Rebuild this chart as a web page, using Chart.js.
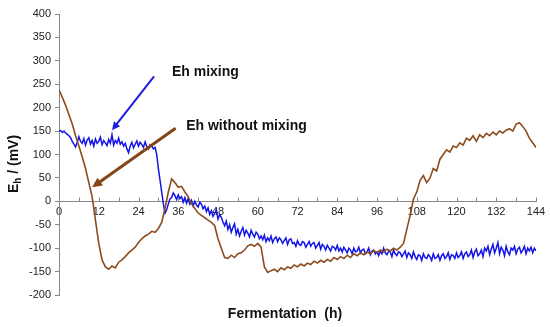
<!DOCTYPE html>
<html lang="en">
<head>
    <meta charset="UTF-8">
    <title>Eh during fermentation</title>
    <script src="https://cdn.jsdelivr.net/npm/chart.js"></script>
    <style>
        body {
            margin: 0;
            background: #fff;
        }
        #wrap {
            width: 550px;
            height: 327px;
        }
    </style>
</head>
<body>
    <div id="wrap"><canvas id="myChart" width="550" height="327"></canvas></div>

    <script>
        // Tiempo de fermentación (h): lecturas cada hora y cada media hora
        var hours = [];
        for (var h = 0; h <= 144; h++) hours.push(h);
        var halfHours = [];
        for (var k = 0; k <= 288; k++) halfHours.push(k / 2);

        // Eh con agitación (mV), cada media hora
        var ehMixing = [
            150, 151, 147, 150, 146, 143, 140, 136, 128, 122,
            116, 126, 138, 128, 124, 134, 120, 131, 136, 122,
            130, 118, 133, 124, 128, 137, 121, 130, 125, 119,
            132, 124, 142, 120, 130, 124, 135, 122, 127, 118,
            124, 112, 104, 118, 126, 114, 122, 129, 118, 126,
            121, 115, 127, 117, 112, 121, 118, 112, 115, 100,
            70, 45, 20, -5, -25, -18, -6, 5, 8, 18,
            12, 4, 14, 6, 10, -2, 8, -4, 6, -6,
            2, -10, 0, -8, -12, -2, -6, -16, -10, -22,
            -14, -28, -20, -32, -26, -18, -38, -28, -34, -44,
            -52, -42, -60, -50, -66, -56, -48, -70, -60, -74,
            -64, -56, -72, -62, -68, -76, -62, -70, -76, -66,
            -70, -80, -74, -82, -72, -86, -78, -84, -74, -88,
            -80, -76, -86, -78, -82, -90, -84, -78, -92, -82,
            -80, -90, -88, -96, -84, -92, -94, -86, -88, -98,
            -92, -86, -96, -90, -88, -100, -94, -88, -102, -92,
            -96, -104, -94, -100, -106, -96, -98, -104, -94, -106,
            -100, -108, -98, -104, -110, -100, -104, -112, -100, -108,
            -106, -98, -110, -104, -102, -112, -108, -100, -114, -106,
            -104, -112, -108, -116, -106, -112, -100, -110, -114, -106,
            -108, -118, -104, -112, -116, -108, -110, -118, -112, -106,
            -120, -110, -114, -122, -108, -118, -124, -114, -116, -126,
            -112, -120, -122, -114, -118, -126, -112, -122, -120, -114,
            -126, -116, -112, -122, -118, -110, -124, -114, -116, -122,
            -110, -120, -116, -108, -122, -112, -108, -118, -114, -104,
            -120, -108, -102, -116, -112, -104, -118, -100, -106, -96,
            -114, -102, -92, -110, -100, -88, -112, -98, -104, -116,
            -96, -108, -114, -100, -104, -96, -112, -102, -98, -110,
            -104, -96, -112, -100, -106, -98, -110, -100, -106
        ];

        // Eh sin agitación (mV), cada hora
        var ehNoMixing = [
            238, 222, 205, 185, 165, 140, 118, 95, 70, 40,
            10, -40, -90, -125, -140, -145, -138, -142, -130, -125,
            -118, -110, -104, -98, -88, -80, -74, -70, -64, -66,
            -58, -45, -15, 20, 48, 40, 30, 32, 20, 10,
            -5, -15, -25, -30, -35, -40, -45, -52, -80, -100,
            -120, -122, -115, -120, -112, -110, -104, -95, -92, -96,
            -90, -98, -140, -152, -148, -145, -150, -142, -146, -140,
            -143, -136, -140, -134, -138, -132, -135, -128, -132, -126,
            -130, -124, -128, -120, -124, -118, -122, -115, -120, -112,
            -116, -110, -114, -108, -112, -105, -110, -104, -108, -102,
            -106, -100, -104, -98, -90, -60, -30, 5, 20, 45,
            55, 40, 50, 70, 65, 90, 100, 110, 105, 118,
            115, 125, 120, 135, 130, 140, 128, 142, 136, 145,
            140, 148, 142, 150, 146, 152, 155, 150, 165, 168,
            160, 150, 135, 125, 115
        ];

        // Marcas de los ejes
        var xTickStep = 6;
        var xLabelStep = 12;
        var yTickStep = 50;

        var blue = 'rgb(20, 20, 230)';
        var brown = 'rgb(140, 75, 30)';

        function toPoints(times, values) {
            return times.map(function (t, i) { return { x: t, y: values[i] }; });
        }

        // Flecha con punta
        function drawArrow(ctx, x1, y1, x2, y2, color, width, head) {
            var ang = Math.atan2(y2 - y1, x2 - x1);
            ctx.save();
            ctx.strokeStyle = color;
            ctx.fillStyle = color;
            ctx.lineWidth = width;
            ctx.beginPath();
            ctx.moveTo(x1, y1);
            ctx.lineTo(x2 - Math.cos(ang) * head * 0.8, y2 - Math.sin(ang) * head * 0.8);
            ctx.stroke();
            ctx.beginPath();
            ctx.moveTo(x2, y2);
            ctx.lineTo(x2 - head * Math.cos(ang - 0.45), y2 - head * Math.sin(ang - 0.45));
            ctx.lineTo(x2 - head * Math.cos(ang + 0.45), y2 - head * Math.sin(ang + 0.45));
            ctx.closePath();
            ctx.fill();
            ctx.restore();
        }

        // Marcas del eje X hacia arriba, textos, flechas y títulos
        var annotations = {
            id: 'annotations',
            beforeDatasetsDraw: function (chart) {
                var ctx = chart.ctx;
                var xs = chart.scales.x, ys = chart.scales.y;
                var y0 = Math.round(ys.getPixelForValue(0)) + 0.5;
                ctx.save();
                ctx.strokeStyle = '#888';
                ctx.lineWidth = 1;
                ctx.beginPath();
                xs.ticks.forEach(function (t) {
                    var px = Math.round(xs.getPixelForValue(t.value)) + 0.5;
                    ctx.moveTo(px, y0);
                    ctx.lineTo(px, y0 - 4);
                });
                ctx.stroke();
                ctx.restore();
            },
            afterDatasetsDraw: function (chart) {
                var ctx = chart.ctx;
                var xs = chart.scales.x, ys = chart.scales.y;

                drawArrow(ctx, xs.getPixelForValue(28.7), ys.getPixelForValue(267),
                    xs.getPixelForValue(16), ys.getPixelForValue(152), 'rgb(30, 30, 220)', 2, 9);
                drawArrow(ctx, xs.getPixelForValue(35.2), ys.getPixelForValue(156),
                    xs.getPixelForValue(10), ys.getPixelForValue(30), 'rgb(130, 70, 25)', 3, 11);

                ctx.save();
                ctx.fillStyle = '#111';
                ctx.font = 'bold 14px "Liberation Sans", Arial, sans-serif';
                ctx.textBaseline = 'middle';
                ctx.textAlign = 'left';
                ctx.fillText('Eh mixing', xs.getPixelForValue(34.1), ys.getPixelForValue(276));
                ctx.fillText('Eh without mixing', xs.getPixelForValue(38.4), ys.getPixelForValue(160));

                // Título eje X
                ctx.textAlign = 'center';
                ctx.fillText('Fermentation  (h)', 285, 314);

                // Título eje Y con subíndice
                ctx.translate(14, 164);
                ctx.rotate(-Math.PI / 2);
                var p1 = 'E', p2 = 'h', p3 = ' / (mV)';
                ctx.font = 'bold 14px "Liberation Sans", Arial, sans-serif';
                var w1 = ctx.measureText(p1).width, w3 = ctx.measureText(p3).width;
                ctx.font = 'bold 10px "Liberation Sans", Arial, sans-serif';
                var w2 = ctx.measureText(p2).width;
                var x0 = -(w1 + w2 + w3) / 2;
                ctx.textAlign = 'left';
                ctx.font = 'bold 14px "Liberation Sans", Arial, sans-serif';
                ctx.fillText(p1, x0, 0);
                ctx.font = 'bold 10px "Liberation Sans", Arial, sans-serif';
                ctx.fillText(p2, x0 + w1, 4);
                ctx.font = 'bold 14px "Liberation Sans", Arial, sans-serif';
                ctx.fillText(p3, x0 + w1 + w2, 0);
                ctx.restore();
            }
        };

        var ctx = document.getElementById('myChart').getContext('2d');
        var chart = new Chart(ctx, {
            type: 'line',
            data: {
                datasets: [{
                    label: 'Eh without mixing',
                    data: toPoints(hours, ehNoMixing),
                    borderColor: brown,
                    borderWidth: 1.6,
                    pointRadius: 0,
                    tension: 0,
                    fill: false
                }, {
                    label: 'Eh mixing',
                    data: toPoints(halfHours, ehMixing),
                    borderColor: blue,
                    borderWidth: 1.5,
                    pointRadius: 0,
                    tension: 0,
                    fill: false
                }]
            },
            options: {
                responsive: false,
                animation: false,
                layout: { padding: { left: 0, right: 14, top: 14, bottom: 32 } },
                plugins: {
                    legend: { display: false },
                    tooltip: { enabled: false }
                },
                scales: {
                    x: {
                        type: 'linear',
                        position: { y: 0 },
                        min: 0,
                        max: 144,
                        ticks: {
                            stepSize: xTickStep,
                            autoSkip: false,
                            maxRotation: 0,
                            padding: 4,
                            color: '#222',
                            font: { family: '"Liberation Sans", Arial, sans-serif', size: 11 },
                            callback: function (v) { return v % xLabelStep === 0 ? v : ''; }
                        },
                        grid: {
                            drawOnChartArea: false,
                            drawTicks: false,
                            color: '#888'
                        },
                        border: { color: '#888', width: 1 }
                    },
                    y: {
                        min: -200,
                        max: 400,
                        afterFit: function (scale) { scale.width = 59; },
                        ticks: {
                            stepSize: yTickStep,
                            padding: 4,
                            color: '#222',
                            font: { family: '"Liberation Sans", Arial, sans-serif', size: 11 }
                        },
                        grid: {
                            drawOnChartArea: false,
                            drawTicks: true,
                            tickLength: 4,
                            color: '#888'
                        },
                        border: { color: '#888', width: 1 }
                    }
                }
            },
            plugins: [annotations]
        });
    </script>
</body>
</html>
